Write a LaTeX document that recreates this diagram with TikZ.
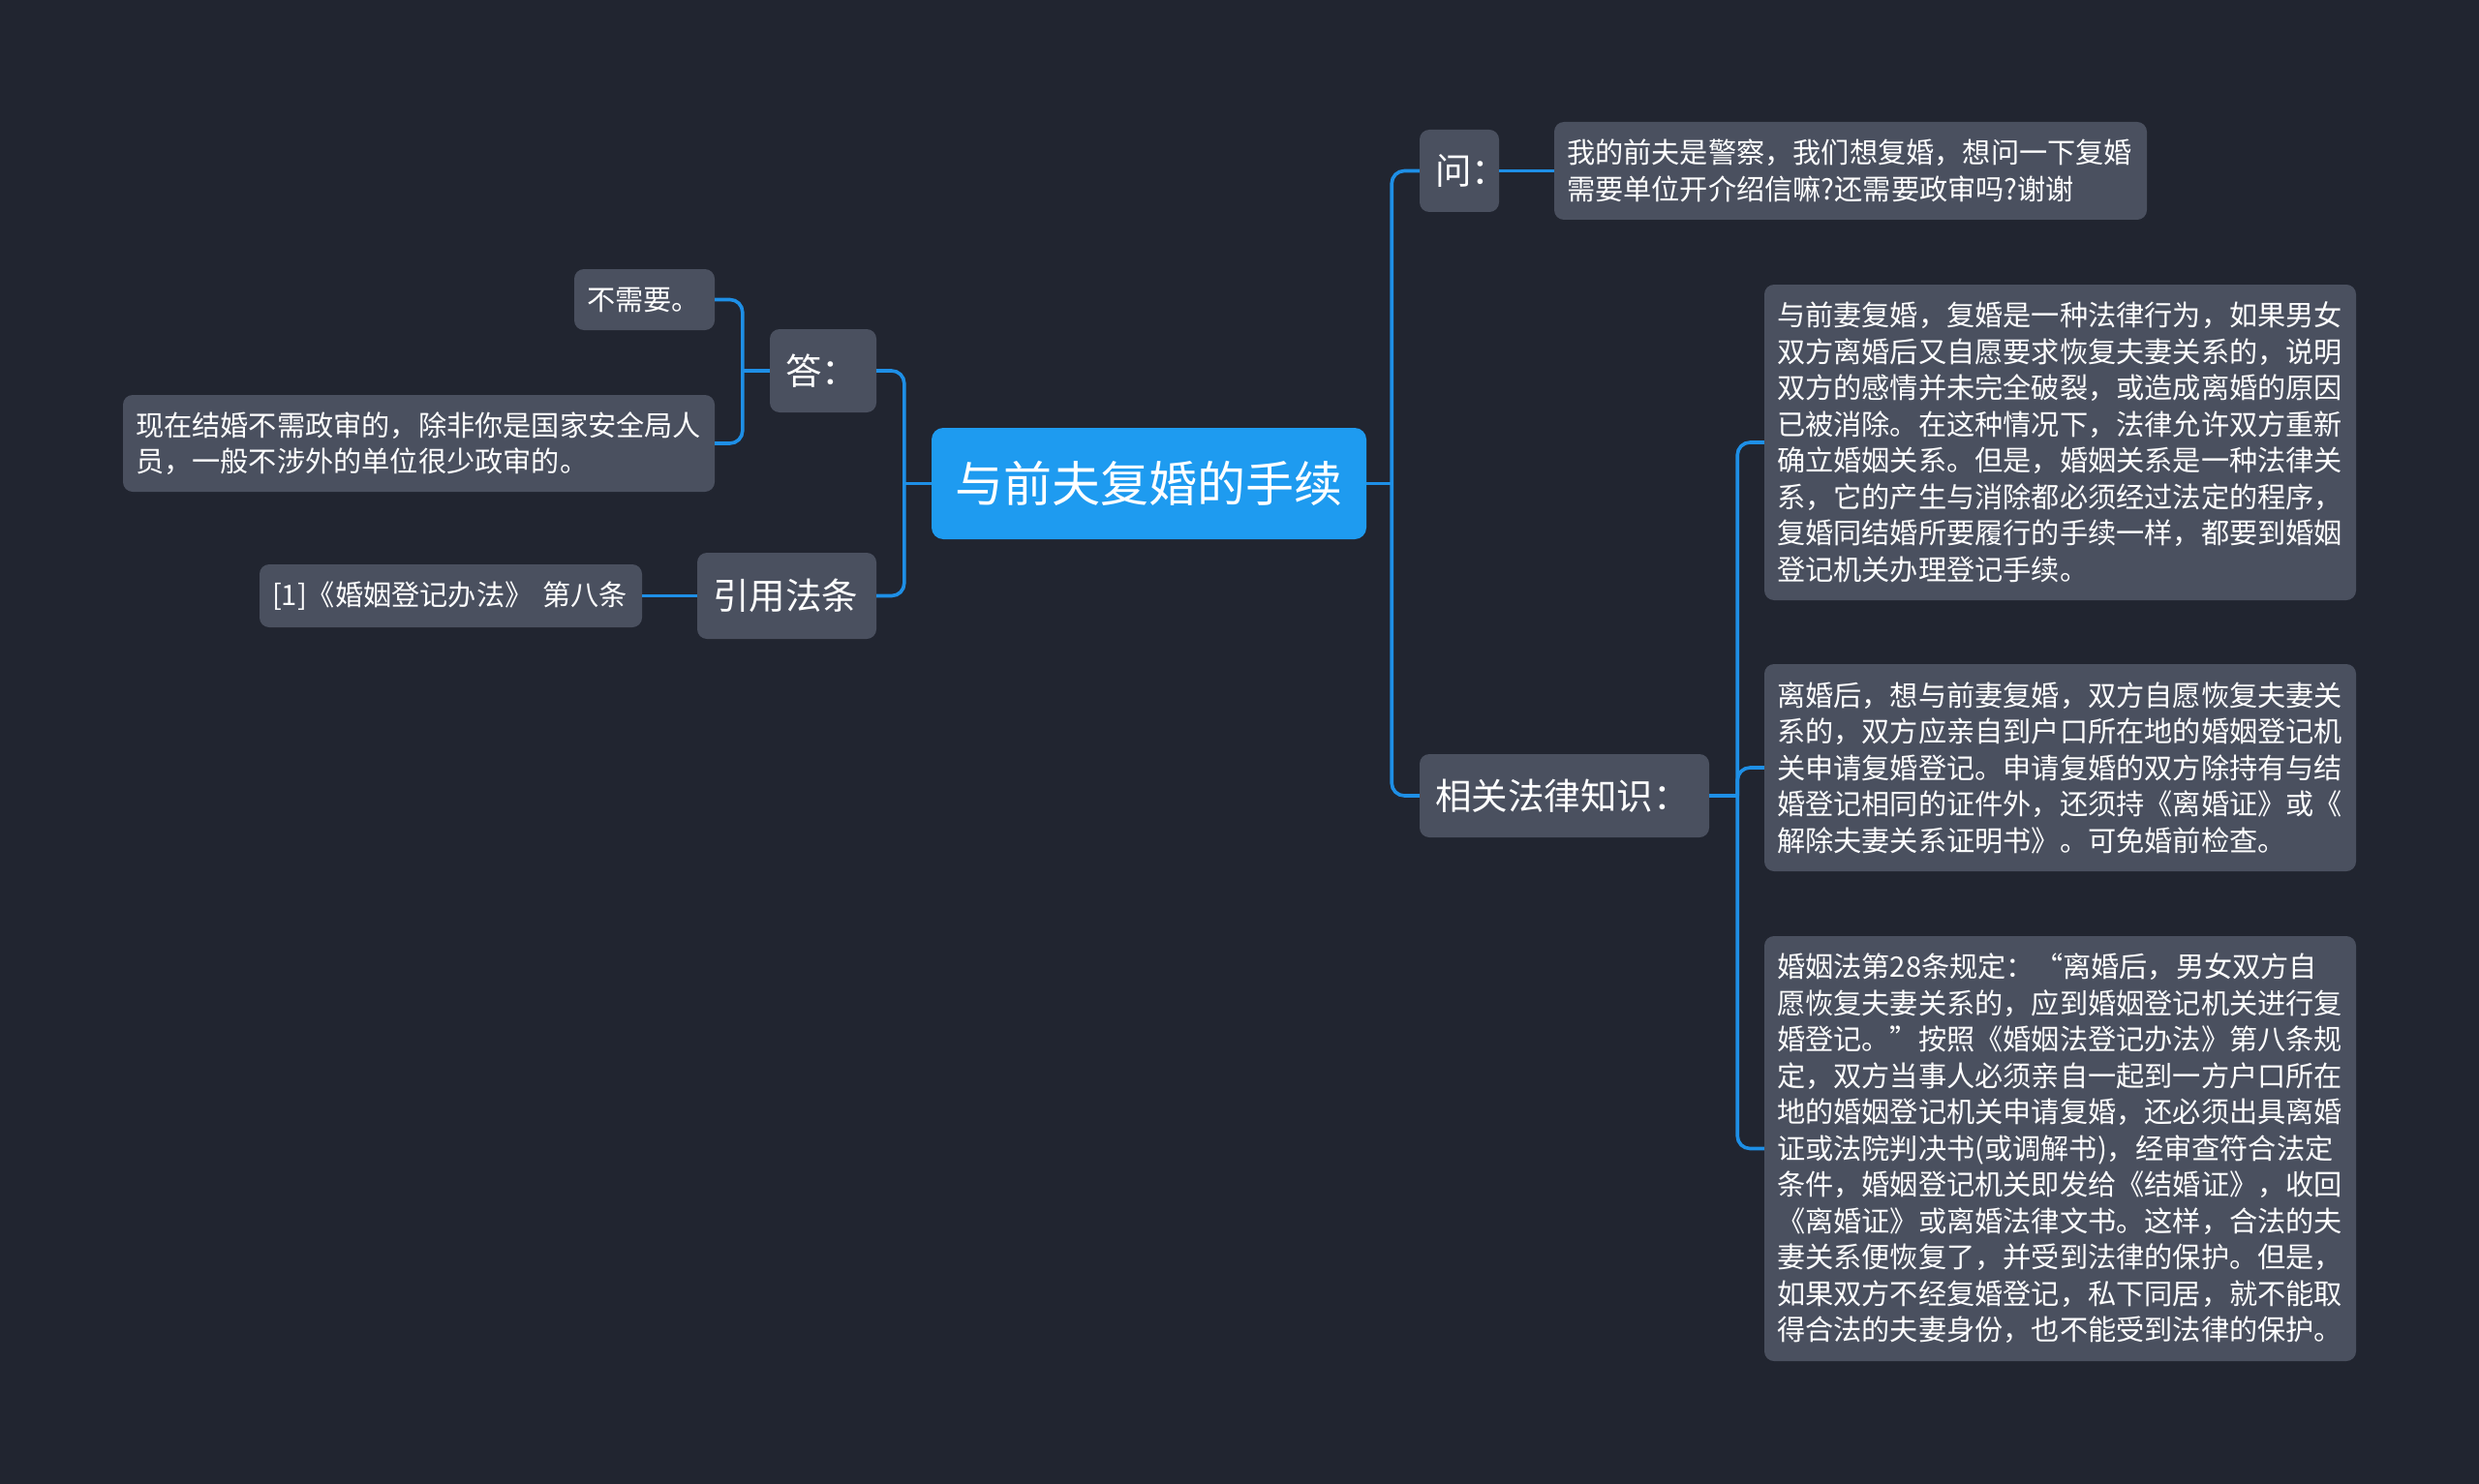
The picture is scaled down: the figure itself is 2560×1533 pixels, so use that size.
\documentclass[tikz,border=0pt]{standalone}
\usepackage{fontspec}
\setmainfont{Noto Sans CJK SC}
\definecolor{bgc}{HTML}{212530}
\definecolor{nodec}{HTML}{4A505F}
\definecolor{rootc}{HTML}{1E9BF0}
\definecolor{linec}{HTML}{1E8FE6}
\begin{document}
\begin{tikzpicture}[x=1pt,y=-1pt,
  box/.style={fill=nodec, rounded corners=10pt, text=white, inner ysep=0pt, align=left},
  leaf/.style={box, inner xsep=13pt, font=\fontsize{29.2pt}{37.5pt}\selectfont},
  sub/.style={box, inner xsep=16pt, font=\fontsize{37.5pt}{45pt}\selectfont},
  rootbox/.style={fill=rootc, rounded corners=12pt, text=white, inner sep=0pt, align=center, font=\fontsize{50pt}{60pt}\selectfont},
  link/.style={draw=linec, line width=3.6pt, rounded corners=13pt},
  stem/.style={draw=linec, line width=3.6pt}]
\fill[bgc] (0,0) rectangle (2560,1533);
\useasboundingbox (0,0) rectangle (2560,1533);

\node[rootbox, minimum width=449pt, minimum height=115pt] (root) at (1186.5,499.5) {与前夫复婚的手续};

\node[sub, text width=50pt, minimum height=85pt] (wen) at (1507,176.5) {问：};
\node[leaf, text width=586pt, minimum height=101pt] (q) at (1911,176.5) {我的前夫是警察，我们想复婚，想问一下复婚\\需要单位开介绍信嘛?还需要政审吗?谢谢};

\node[sub, text width=267pt, minimum height=86pt] (xg) at (1615.5,822) {相关法律知识：};
\node[leaf, text width=585pt, minimum height=326pt] (r1) at (2127.5,457) {与前妻复婚，复婚是一种法律行为，如果男女\\双方离婚后又自愿要求恢复夫妻关系的，说明\\双方的感情并未完全破裂，或造成离婚的原因\\已被消除。在这种情况下，法律允许双方重新\\确立婚姻关系。但是，婚姻关系是一种法律关\\系，它的产生与消除都必须经过法定的程序，\\复婚同结婚所要履行的手续一样，都要到婚姻\\登记机关办理登记手续。};
\node[leaf, text width=585pt, minimum height=214pt] (r2) at (2127.5,793) {离婚后，想与前妻复婚，双方自愿恢复夫妻关\\系的，双方应亲自到户口所在地的婚姻登记机\\关申请复婚登记。申请复婚的双方除持有与结\\婚登记相同的证件外，还须持《离婚证》或《\\解除夫妻关系证明书》。可免婚前检查。};
\node[leaf, text width=585pt, minimum height=439pt] (r3) at (2127.5,1186.5) {婚姻法第28条规定：“离婚后，男女双方自\\愿恢复夫妻关系的，应到婚姻登记机关进行复\\婚登记。”按照《婚姻法登记办法》第八条规\\定，双方当事人必须亲自一起到一方户口所在\\地的婚姻登记机关申请复婚，还必须出具离婚\\证或法院判决书(或调解书)，经审查符合法定\\条件，婚姻登记机关即发给《结婚证》，收回\\《离婚证》或离婚法律文书。这样，合法的夫\\妻关系便恢复了，并受到法律的保护。但是，\\如果双方不经复婚登记，私下同居，就不能取\\得合法的夫妻身份，也不能受到法律的保护。};

\node[sub, text width=78pt, minimum height=86pt] (da) at (850,383) {答：};
\node[leaf, text width=119pt, minimum height=63pt] (bx) at (665.5,309.5) {不需要。};
\node[leaf, text width=585pt, minimum height=100pt] (xz) at (432.5,458) {现在结婚不需政审的，除非你是国家安全局人\\员，一般不涉外的单位很少政审的。};

\node[sub, text width=153pt, minimum height=89pt] (yy) at (812.5,615.5) {引用法条};
\node[leaf, text width=369pt, minimum height=65pt] (ref) at (465.5,615.5) {[1]《婚姻登记办法》 第八条};

\coordinate (tR) at ([xshift=26pt]root.east);
\coordinate (tL) at ([xshift=-28pt]root.west);
\coordinate (tX) at ([xshift=29pt]xg.east);
\coordinate (tD) at ([xshift=-28pt]da.west);

% right side of root
\draw[stem] (root.east) -- (tR);
\draw[link] (wen.west) -| (tR) |- (xg.west);
\draw[stem] (wen.east) -- (q.west);
% related knowledge
\draw[stem] (xg.east) -- (tX);
\draw[link] (r1.west) -| (tX) |- (r3.west);
\draw[link] (tX) |- (r2.west);
% left side of root
\draw[stem] (root.west) -- (tL);
\draw[link] (da.east) -| (tL) |- (yy.east);
\draw[stem] (da.west) -- (tD);
\draw[link] (bx.east) -| (tD) |- (xz.east);
\draw[stem] (yy.west) -- (ref.east);
\end{tikzpicture}
\end{document}
